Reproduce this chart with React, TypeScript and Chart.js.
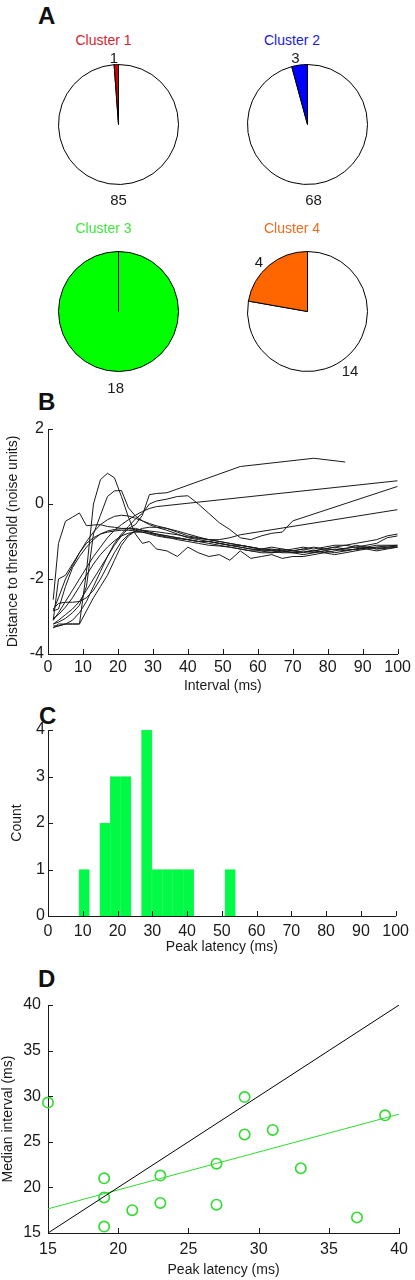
import React, { useEffect, useRef } from 'react';
import { Chart, registerables } from 'chart.js';

Chart.register(...registerables);

const FONT = '"Liberation Sans", Arial, Helvetica, sans-serif';
const INK = '#1a1a1a';

// ---------- Panel A : cluster pies ----------
const clusterNames = ['Cluster 1', 'Cluster 2', 'Cluster 3', 'Cluster 4'];
const clusterCounts = [1, 3, 18, 4];
const otherCounts = [85, 68, 0, 14];
const clusterColors = ['#d40000', '#0000ff', '#00ff00', '#ff6600'];
const clusterTextColors = ['#d9222e', '#1a1ae0', '#3de83d', '#f26a1b'];

// ---------- Panel B : distance to threshold traces ----------
const intervalMs = [1.5, 3, 5, 7, 9, 11, 13, 15, 17, 19, 21, 23, 25, 27, 29, 31, 34, 37, 40, 43, 46, 49, 52, 55, 58, 61, 64, 67, 70, 73, 76, 79, 82, 85, 88, 91, 94, 97, 100];
const trace1 = [-3.2, -3.1, -2.95, -2.8, -2.6, -2.3, -2.0, -1.7, -1.4, -1.1, -0.85, -0.65, -0.55, -0.3, 0.25, 0.28, 0.3, null, null, null, null, null, null, 1.0, null, null, null, null, null, null, 1.22, null, null, 1.12, null, null, null, null, null];
const trace2 = [-3.1, -2.9, -2.6, -2.3, -2.0, -1.7, -1.4, -1.15, -0.9, -0.7, -0.55, -0.42, -0.3, -0.2, -0.12, -0.07, null, null, null, null, null, null, null, null, null, null, null, null, null, null, null, null, null, null, null, null, null, null, 0.62];
const trace3 = [-3.3, -3.25, -3.2, -3.1, -2.9, -2.6, -2.2, -1.8, -1.4, -1.05, -0.8, -0.6, -0.4, -0.25, 0.0, 0.08, 0.13, 0.2, 0.22, 0.0, -0.25, -0.5, -0.68, -0.9, -0.95, -0.85, -0.78, -0.75, -0.45, null, null, null, null, null, null, null, null, null, 0.47];
const trace4 = [-2.85, -2.8, -2.2, -1.7, -1.4, -1.15, -0.95, -0.8, -0.72, -0.68, -0.66, -0.66, -0.68, -0.7, -0.72, -0.74, -0.78, -0.82, -0.88, -0.92, -0.95, -0.95, -0.9, -0.82, null, null, null, null, null, null, null, null, null, null, null, null, null, null, -0.15];
const trace5 = [-3.25, -3.25, -3.2, -3.2, -3.2, -1.8, 0.0, 0.65, 0.82, 0.7, 0.2, -0.35, -0.8, -1.05, -1.0, -1.2, -1.25, -1.4, -1.15, -1.3, -1.4, -1.35, -1.5, -1.25, -1.45, -1.4, -1.35, -1.45, -1.4, -1.4, -1.35, -1.3, -1.35, -1.3, -1.25, -1.2, -1.25, -1.2, -1.15];
const trace6 = [-3.2, -3.15, -3.05, -2.9, -2.7, -2.2, -0.8, -0.3, 0.2, 0.35, 0.36, -0.1, -0.32, -0.45, -0.55, -0.62, -0.7, -0.8, -0.9, -0.95, -1.0, -1.05, -1.1, -1.15, -1.2, -1.25, -1.25, -1.3, -1.3, -1.25, -1.3, -1.25, -1.2, -1.25, -1.2, -1.15, -1.2, -1.15, -1.15];
const trace7 = [-2.55, -1.05, -0.46, -0.35, -0.24, -0.58, -0.56, -0.55, -0.6, -0.62, -0.65, -0.65, -0.65, -0.7, -0.75, -0.8, -0.85, -0.9, -0.95, -1.0, -1.0, -1.05, -1.1, -1.15, -1.2, -1.22, -1.25, -1.2, -1.25, -1.2, -1.15, -1.2, -1.15, -1.1, -1.15, -1.1, -1.05, -0.9, -0.85];
const trace8 = [-2.85, -2.5, -2.0, -1.65, -1.3, -1.0, -0.75, -0.55, -0.42, -0.33, -0.3, -0.32, -0.38, -0.45, -0.52, -0.58, -0.65, -0.75, -0.85, -0.9, -0.95, -1.0, -1.05, -1.1, -1.15, -1.2, -1.2, -1.25, -1.2, -1.15, -1.2, -1.15, -1.1, -1.1, -1.05, -1.0, -0.95, -0.85, -0.8];
const trace9 = [-2.8, -2.65, -2.62, -2.62, -2.6, -2.5, -2.3, -2.0, -1.65, -1.3, -1.0, -0.82, -0.72, -0.65, -0.62, -0.62, -0.65, -0.72, -0.8, -0.88, -0.95, -1.0, -1.05, -1.1, -1.15, -1.2, -1.22, -1.25, -1.3, -1.28, -1.25, -1.3, -1.25, -1.2, -1.22, -1.18, -1.15, -1.15, -1.12];
const trace10 = [-3.3, -3.2, -3.2, -3.2, -3.2, -2.85, -2.5, -2.2, -1.9, -1.5, -1.1, -0.85, -0.72, -0.72, -0.75, -0.8, -0.85, -0.9, -0.95, -1.0, -1.05, -1.1, -1.15, -1.2, -1.25, -1.3, -1.3, -1.25, -1.3, -1.35, -1.3, -1.25, -1.3, -1.25, -1.2, -1.15, -1.2, -1.18, -1.15];
const trace11 = [-3.1, -2.0, -1.9, -1.6, -1.3, -1.05, -0.9, -0.8, -0.75, -0.72, -0.7, -0.7, -0.72, -0.75, -0.8, -0.85, -0.9, -0.92, -0.95, -1.0, -1.0, -1.05, -1.1, -1.1, -1.15, -1.2, -1.15, -1.2, -1.25, -1.2, -1.25, -1.2, -1.15, -1.2, -1.1, -1.15, -1.1, -1.1, -1.1];
const trace12 = [-3.05, -2.95, -2.75, -2.5, -2.2, -1.9, -1.6, -1.35, -1.15, -0.98, -0.85, -0.78, -0.75, -0.75, -0.78, -0.82, -0.88, -0.95, -1.0, -1.05, -1.1, -1.12, -1.15, -1.2, -1.25, -1.25, -1.3, -1.28, -1.25, -1.3, -1.25, -1.2, -1.22, -1.18, -1.15, -1.2, -1.15, -1.12, -1.1];
const traces = [trace1, trace2, trace3, trace4, trace5, trace6, trace7, trace8, trace9, trace10, trace11, trace12];

// ---------- Panel C : peak latency histogram ----------
const latencyBinCenters = [10.4, 13.4, 16.4, 19.4, 22.4, 25.4, 28.4, 31.4, 34.4, 37.4, 40.4, 43.4, 46.4, 49.4, 52.4];
const latencyCounts = [1, 0, 2, 3, 3, 0, 4, 1, 1, 1, 1, 0, 0, 0, 1];

// ---------- Panel D : median interval vs peak latency ----------
const peakLatency = [15, 29, 29, 31, 39, 27, 33, 19, 23, 19, 21, 23, 27, 19, 37];
const medianInterval = [29.3, 29.9, 25.8, 26.3, 27.9, 22.6, 22.1, 21.0, 21.3, 18.9, 17.5, 18.3, 18.1, 15.7, 16.7];
const unityX = [15, 40];
const unityY = [15, 40];
const fitX = [15, 40];
const fitY = [17.65, 28.03];

const GREEN_PT = '#2fdc2f';

const inwardTicks = {
  id: 'inwardTicks',
  afterDatasetsDraw(chart: any) {
    const { ctx, chartArea } = chart;
    const xs = chart.scales.x;
    const ys = chart.scales.y;
    if (!xs || !ys) return;
    ctx.save();
    ctx.strokeStyle = INK;
    ctx.lineWidth = 1;
    ctx.beginPath();
    for (let i = 0; i < xs.ticks.length; i++) {
      const px = Math.round(xs.getPixelForTick(i)) + 0.5;
      ctx.moveTo(px, chartArea.bottom);
      ctx.lineTo(px, chartArea.bottom - 5);
    }
    for (let i = 0; i < ys.ticks.length; i++) {
      const py = Math.round(ys.getPixelForTick(i)) + 0.5;
      ctx.moveTo(chartArea.left, py);
      ctx.lineTo(chartArea.left + 5, py);
    }
    ctx.stroke();
    ctx.restore();
  },
};

const tickFont = { family: FONT, size: 16 };
const titleFont = { family: FONT, size: 14 };

function xAxis(min: number, max: number, step: number, title: string, height: number, tickPad: number, titlePad: number) {
  return {
    type: 'linear',
    min,
    max,
    offset: false,
    ticks: { stepSize: step, padding: tickPad, font: tickFont, color: INK, maxRotation: 0, autoSkip: false },
    grid: { display: false, drawTicks: false, offset: false },
    border: { display: true, color: INK, width: 1 },
    title: { display: true, text: title, font: titleFont, color: INK, padding: { top: 0, bottom: titlePad } },
    afterFit: (s: any) => { s.height = height; },
  };
}

function yAxis(min: number, max: number, step: number, title: string, tickPad: number, titlePad: number) {
  return {
    type: 'linear',
    min,
    max,
    ticks: { stepSize: step, padding: tickPad, font: tickFont, color: INK },
    grid: { display: false, drawTicks: false },
    border: { display: true, color: INK, width: 1 },
    title: { display: true, text: title, font: titleFont, color: INK, padding: { top: titlePad, bottom: 0 } },
    afterFit: (s: any) => { s.width = 48; },
  };
}

const baseOptions = {
  responsive: false,
  animation: false,
  devicePixelRatio: 1,
  events: [],
  plugins: { legend: { display: false }, tooltip: { enabled: false }, title: { display: false } },
};

function ChartBox({ left, top, width, height, make }: any) {
  const ref = useRef<HTMLCanvasElement>(null);
  useEffect(() => {
    const chart = new Chart(ref.current as HTMLCanvasElement, make());
    return () => chart.destroy();
  }, []);
  return (
    <canvas
      ref={ref}
      width={width}
      height={height}
      style={{ position: 'absolute', left, top, width, height }}
    />
  );
}

function Txt({ x, y, color = INK, size = 14, children }: any) {
  return (
    <div
      style={{
        position: 'absolute',
        left: x,
        top: y,
        transform: 'translate(-50%, -50%)',
        fontFamily: FONT,
        fontSize: size,
        lineHeight: size + 'px',
        color,
        whiteSpace: 'nowrap',
      }}
    >
      {children}
    </div>
  );
}

function Letter({ x, y, children }: any) {
  return (
    <div
      style={{
        position: 'absolute',
        left: x,
        top: y,
        fontFamily: FONT,
        fontWeight: 'bold',
        fontSize: 24,
        lineHeight: '24px',
        color: '#111',
      }}
    >
      {children}
    </div>
  );
}

const pieCenters = [
  [118, 124.5],
  [307, 124.5],
  [118, 311.5],
  [307, 311.5],
];
const titlePos = [
  [103.5, 40],
  [292, 40],
  [103.5, 227.5],
  [292, 227.5],
];
const inLabelPos = [
  [114, 57],
  [295.5, 57],
  null,
  [259, 261],
];
const outLabelPos = [
  [118.5, 199],
  [313.5, 199],
  [115.7, 386.5],
  [350, 370],
];

function makePie(i: number) {
  return () => ({
    type: 'pie',
    data: {
      labels: ['other', clusterNames[i]],
      datasets: [
        {
          data: [otherCounts[i], clusterCounts[i]],
          backgroundColor: ['#ffffff', clusterColors[i]],
          borderColor: '#000000',
          borderWidth: 1,
          hoverOffset: 0,
          offset: 0,
        },
      ],
    },
    options: { ...baseOptions, layout: { padding: 1 } },
  });
}

function makeTraces() {
  return {
    type: 'line',
    data: {
      datasets: traces.map((t) => ({
        data: t.map((y, i) => ({ x: intervalMs[i], y })),
        borderColor: INK,
        borderWidth: 1,
        pointRadius: 0,
        tension: 0,
        spanGaps: true,
        fill: false,
      })),
    },
    options: {
      ...baseOptions,
      layout: { padding: { left: 0, top: 14, right: 13, bottom: 0 } },
      scales: {
        x: xAxis(0, 100, 10, 'Interval (ms)', 46, 4, 5),
        y: yAxis(-4, 2, 2, 'Distance to threshold (noise units)', 4, 5),
      },
    },
    plugins: [inwardTicks],
  };
}

function makeHist() {
  return {
    type: 'bar',
    data: {
      datasets: [
        {
          data: latencyBinCenters.map((c, i) => ({ x: c, y: latencyCounts[i] })),
          backgroundColor: '#00fa46',
          borderColor: '#3cf06a',
          borderWidth: 0.6,
          barPercentage: 1,
          categoryPercentage: 1,
        },
      ],
    },
    options: {
      ...baseOptions,
      layout: { padding: { left: 0, top: 30, right: 13, bottom: 0 } },
      scales: {
        x: xAxis(0, 100, 10, 'Peak latency (ms)', 44, 6, 4),
        y: yAxis(0, 4, 1, 'Count', 3, 9),
      },
    },
    plugins: [inwardTicks],
  };
}

function makeScatter() {
  return {
    type: 'scatter',
    data: {
      datasets: [
        {
          data: unityX.map((x, i) => ({ x, y: unityY[i] })),
          showLine: true,
          borderColor: '#000000',
          borderWidth: 1,
          pointRadius: 0,
        },
        {
          data: fitX.map((x, i) => ({ x, y: fitY[i] })),
          showLine: true,
          borderColor: GREEN_PT,
          borderWidth: 1,
          pointRadius: 0,
        },
        {
          data: peakLatency.map((x, i) => ({ x, y: medianInterval[i] })),
          showLine: false,
          pointRadius: 5.2,
          pointBorderWidth: 1.6,
          pointBorderColor: GREEN_PT,
          pointBackgroundColor: 'rgba(0,0,0,0)',
          clip: false,
        },
      ],
    },
    options: {
      ...baseOptions,
      layout: { padding: { left: 0, top: 45, right: 11, bottom: 0 } },
      scales: {
        x: xAxis(15, 40, 5, 'Peak latency (ms)', 47, 7, 1),
        y: yAxis(15, 40, 5, 'Median interval (ms)', 7, 0),
      },
    },
    plugins: [inwardTicks],
  };
}

export default function App() {
  return (
    <div style={{ position: 'absolute', left: 0, top: 0, width: 415, height: 1280, background: '#fff', overflow: 'hidden' }}>
      <Letter x={38} y={4}>A</Letter>
      {clusterNames.map((name, i) => (
        <React.Fragment key={name}>
          <ChartBox
            left={Math.round(pieCenters[i][0] - 61.5)}
            top={Math.round(pieCenters[i][1] - 61.5)}
            width={123}
            height={123}
            make={makePie(i)}
          />
          <Txt x={titlePos[i][0]} y={titlePos[i][1]} color={clusterTextColors[i]}>{name}</Txt>
          {inLabelPos[i] && <Txt x={inLabelPos[i]![0]} y={inLabelPos[i]![1]} size={15}>{clusterCounts[i]}</Txt>}
          <Txt x={outLabelPos[i][0]} y={outLabelPos[i][1]} size={15}>{otherCounts[i] > 0 ? otherCounts[i] : clusterCounts[i]}</Txt>
        </React.Fragment>
      ))}

      <Letter x={38} y={390}>B</Letter>
      <ChartBox left={0} top={415} width={415} height={285} make={makeTraces} />

      <Letter x={39} y={704}>C</Letter>
      <ChartBox left={0} top={700} width={415} height={260} make={makeHist} />

      <Letter x={38} y={967}>D</Letter>
      <ChartBox left={0} top={960} width={415} height={320} make={makeScatter} />
    </div>
  );
}
